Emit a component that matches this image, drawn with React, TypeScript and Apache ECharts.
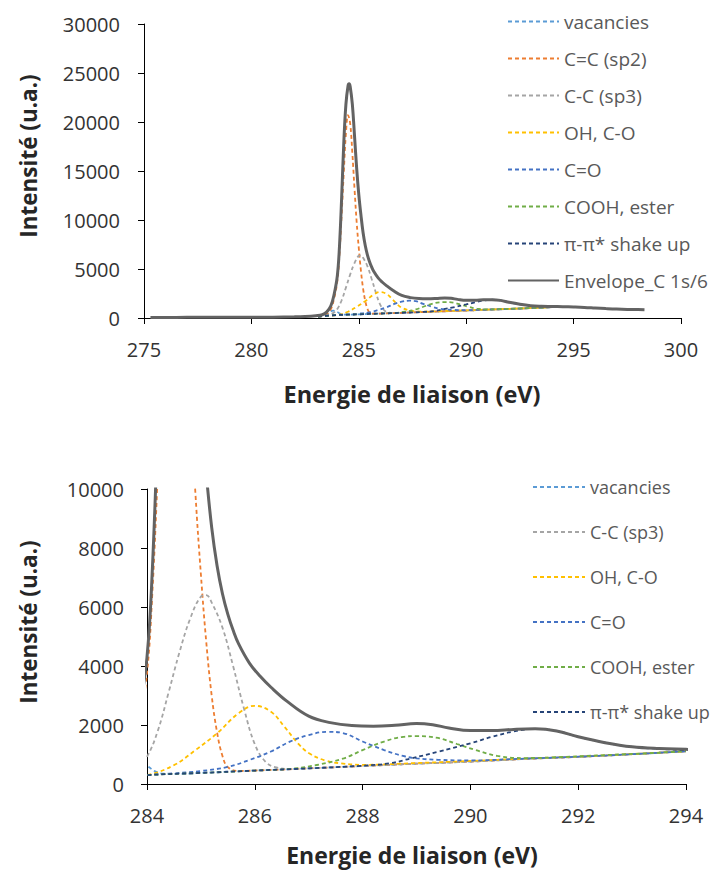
import React, { useEffect, useRef } from "react";
import * as echarts from "echarts";

// ---- Data ----
const vacanciesE = [283.1, 283.4, 283.6, 283.8, 284.0, 284.15, 284.3, 284.6, 285.0, 286.0, 287.0, 288.0, 289.0, 290.0, 291.0, 292.0, 293.0, 294.0];
const vacanciesV = [150, 260, 550, 750, 610, 430, 350, 345, 375, 455, 530, 610, 690, 760, 850, 920, 1010, 1110];

const sp2E = [283.1, 283.5, 283.7, 283.85, 284.0, 284.1, 284.2, 284.3, 284.4, 284.5, 284.6, 284.7, 284.8, 284.9, 285.0, 285.1, 285.2, 285.3, 285.4, 285.5, 285.7, 286.0, 287.0, 288.0, 289.0, 290.0, 291.0, 292.0, 293.0, 294.0];
const sp2V = [150, 400, 900, 2000, 3750, 6500, 10500, 14800, 18800, 20700, 19800, 16800, 13200, 9800, 7100, 4800, 3000, 1750, 950, 570, 440, 455, 530, 610, 690, 760, 850, 920, 1010, 1110];

const sp3E = [283.1, 283.5, 283.8, 284.0, 284.2, 284.4, 284.6, 284.8, 285.0, 285.1, 285.2, 285.4, 285.6, 285.8, 286.0, 286.2, 286.4, 286.7, 287.0, 288.0, 289.0, 290.0, 291.0, 292.0, 293.0, 294.0];
const sp3V = [150, 280, 500, 925, 1800, 3100, 4450, 5600, 6350, 6400, 6150, 5300, 3980, 2550, 1350, 750, 560, 510, 530, 610, 690, 760, 850, 920, 1010, 1110];

const ohE = [283.1, 284.0, 284.5, 284.9, 285.3, 285.7, 286.0, 286.3, 286.55, 286.8, 287.0, 287.3, 287.6, 288.0, 289.0, 290.0, 291.0, 292.0, 293.0, 294.0];
const ohV = [150, 305, 640, 1150, 1720, 2400, 2650, 2450, 1940, 1380, 1050, 800, 700, 650, 710, 780, 860, 930, 1015, 1110];

const coE = [283.1, 284.0, 284.5, 285.0, 285.5, 285.9, 286.3, 286.65, 287.0, 287.35, 287.65, 288.0, 288.4, 288.75, 289.0, 289.4, 290.0, 291.0, 292.0, 293.0, 294.0];
const coV = [150, 300, 360, 440, 580, 814, 1100, 1435, 1660, 1770, 1720, 1440, 1150, 950, 870, 820, 800, 860, 925, 1010, 1110];

const coohE = [283.1, 284.0, 285.0, 286.0, 286.7, 287.15, 287.65, 288.0, 288.4, 288.75, 289.0, 289.4, 289.75, 290.1, 290.5, 291.0, 291.5, 292.5, 293.5, 294.0];
const coohV = [150, 300, 375, 455, 520, 644, 870, 1150, 1440, 1600, 1625, 1560, 1356, 1150, 950, 880, 900, 980, 1060, 1120];

const piE = [283.1, 284.0, 285.0, 286.0, 287.0, 288.0, 288.5, 288.9, 289.4, 290.0, 290.4, 290.8, 291.2, 291.6, 292.0, 292.5, 293.0, 293.5, 294.0];
const piV = [150, 300, 375, 455, 530, 620, 700, 870, 1090, 1380, 1600, 1780, 1870, 1800, 1600, 1400, 1260, 1190, 1150];

const envE = [275.3, 276, 277, 278, 279, 280, 281, 282, 282.5, 283, 283.3, 283.5, 283.7, 283.85, 284.0, 284.1, 284.2, 284.3, 284.4, 284.5, 284.55, 284.6, 284.7, 284.8, 284.9, 285.0, 285.1, 285.2, 285.3, 285.4, 285.5, 285.6, 285.7, 285.9, 286.1, 286.3, 286.6, 287.0, 287.4, 287.8, 288.2, 288.6, 289.0, 289.3, 289.6, 290.0, 290.4, 290.8, 291.2, 291.6, 292.0, 292.5, 293.0, 293.5, 294.0, 294.5, 295.0, 295.5, 296.0, 296.5, 297.0, 297.5, 298.0, 298.3];
const envV = [60, 62, 65, 68, 72, 78, 88, 115, 150, 230, 330, 600, 1250, 2400, 4300, 7300, 12200, 17800, 21800, 23700, 23900, 23600, 21800, 18600, 15300, 12600, 10500, 8700, 7400, 6450, 5750, 5200, 4750, 4100, 3650, 3280, 2800, 2300, 2080, 1980, 1960, 1990, 2050, 2010, 1900, 1810, 1810, 1850, 1870, 1800, 1600, 1400, 1260, 1200, 1175, 1150, 1120, 1080, 1020, 960, 910, 880, 870, 850];

const topLegend = ["vacancies", "C=C (sp2)", "C-C (sp3)", "OH, C-O", "C=O", "COOH, ester", "π-π* shake up", "Envelope_C 1s/6"];
const bottomLegend = ["vacancies", "C-C (sp3)", "OH, C-O", "C=O", "COOH, ester", "π-π* shake up"];

const xTitle = "Energie de liaison (eV)";
const yTitle = "Intensité (u.a.)";

const FONT = "'Open Sans', 'Noto Sans', sans-serif";

const zip = (xs: number[], ys: number[]) => xs.map((x, i) => [x, ys[i]]);

const seriesDefs = [
  { name: "vacancies", e: vacanciesE, v: vacanciesV, color: "#5B9BD5", dashed: true },
  { name: "C=C (sp2)", e: sp2E, v: sp2V, color: "#ED7D31", dashed: true },
  { name: "C-C (sp3)", e: sp3E, v: sp3V, color: "#A5A5A5", dashed: true },
  { name: "OH, C-O", e: ohE, v: ohV, color: "#FFC000", dashed: true },
  { name: "C=O", e: coE, v: coV, color: "#4472C4", dashed: true },
  { name: "COOH, ester", e: coohE, v: coohV, color: "#70AD47", dashed: true },
  { name: "π-π* shake up", e: piE, v: piV, color: "#264478", dashed: true },
  { name: "Envelope_C 1s/6", e: envE, v: envV, color: "#636363", dashed: false },
];

function makeSeries(gi: number) {
  return seriesDefs.map((d) => ({
    name: d.name,
    type: "line",
    xAxisIndex: gi,
    yAxisIndex: gi,
    data: zip(d.e, d.v),
    symbol: "none",
    showSymbol: false,
    smooth: 0.4,
    silent: true,
    clip: true,
    lineStyle: d.dashed
      ? { color: d.color, width: 1.8, type: [4, 3] }
      : { color: d.color, width: 3 },
    itemStyle: { color: d.color },
    emphasis: { disabled: true },
  }));
}

const axisCommon = {
  axisLine: { show: true, lineStyle: { color: "#000", width: 1 } },
  axisTick: { show: true, inside: false, length: 6, lineStyle: { color: "#000" } },
  splitLine: { show: false },
  axisLabel: { fontSize: 20, color: "#333", fontFamily: FONT, formatter: (v: number) => String(v) },
};

const legendCommon = {
  orient: "vertical",
  itemHeight: 20,
  selectedMode: false,
  itemStyle: { opacity: 0, borderWidth: 0 },
};

export default function App() {
  const ref = useRef<HTMLDivElement>(null);
  useEffect(() => {
    if (!ref.current) return;
    const chart = echarts.init(ref.current, undefined, { renderer: "svg" });
    const titleBase = { fontWeight: "bold", fill: "#262626", fontFamily: FONT, textAlign: "center", textVerticalAlign: "middle" };
    chart.setOption({
      animation: false,
      backgroundColor: "#fff",
      grid: [
        { left: 144, top: 24, width: 537, height: 294 },
        { left: 147, top: 489, width: 539, height: 295 },
      ],
      xAxis: [
        { ...axisCommon, type: "value", gridIndex: 0, min: 275, max: 300, interval: 5, axisLabel: { ...axisCommon.axisLabel, margin: 21 } },
        { ...axisCommon, type: "value", gridIndex: 1, min: 284, max: 294, interval: 2, axisLabel: { ...axisCommon.axisLabel, margin: 21 } },
      ],
      yAxis: [
        { ...axisCommon, type: "value", gridIndex: 0, min: 0, max: 30000, interval: 5000, axisLabel: { ...axisCommon.axisLabel, margin: 24 } },
        { ...axisCommon, type: "value", gridIndex: 1, min: 0, max: 10000, interval: 2000, axisLabel: { ...axisCommon.axisLabel, margin: 23 } },
      ],
      legend: [
        {
          ...legendCommon,
          data: topLegend,
          left: 502,
          top: 7,
          itemWidth: 51,
          itemGap: 18,
          textStyle: { fontSize: 19, color: "#595959", fontFamily: FONT },
        },
        {
          ...legendCommon,
          data: bottomLegend,
          left: 527,
          top: 473,
          itemWidth: 52,
          itemGap: 27,
          textStyle: { fontSize: 18, color: "#595959", fontFamily: FONT },
        },
      ],
      graphic: [
        { type: "text", x: 28, y: 156, rotation: Math.PI / 2, style: { ...titleBase, fontSize: 22.5, text: yTitle } },
        { type: "text", x: 412, y: 394, style: { ...titleBase, fontSize: 23.5, text: xTitle } },
        { type: "text", x: 28, y: 622, rotation: Math.PI / 2, style: { ...titleBase, fontSize: 22.5, text: yTitle } },
        { type: "text", x: 412, y: 855, style: { ...titleBase, fontSize: 23, text: xTitle } },
      ],
      series: [...makeSeries(0), ...makeSeries(1)],
    });
    return () => chart.dispose();
  }, []);
  return (
    <div
      ref={ref}
      style={{ position: "fixed", left: 0, top: 0, width: 713, height: 872, background: "#fff" }}
    />
  );
}
